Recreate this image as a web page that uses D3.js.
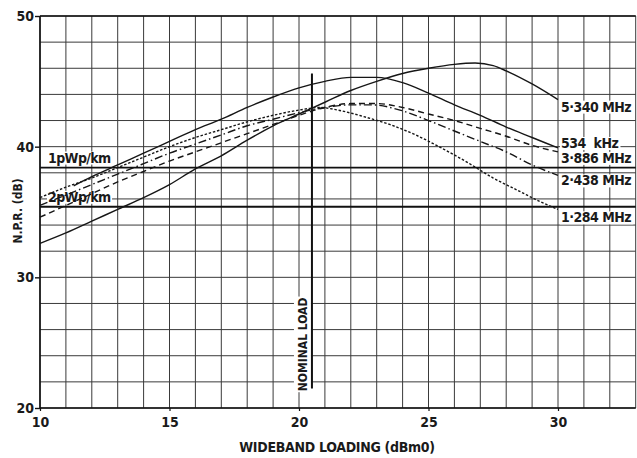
<!DOCTYPE html>
<html>
<head>
<meta charset="utf-8">
<script src="https://cdn.jsdelivr.net/npm/d3@7"></script>
<style>
  html, body { margin: 0; padding: 0; background: #fff; }
  svg { display: block; }
  text { font-family: "DejaVu Sans Condensed", "DejaVu Sans", sans-serif; fill: #1a1a1a; }
</style>
</head>
<body>
<svg id="chart" width="637" height="458"></svg>
<script>
// Axis ticks
const xTicks = [10, 15, 20, 25, 30];
const yTicks = [20, 30, 40, 50];

// N.P.R. curves (wideband loading dBm0, N.P.R. dB) per slot frequency
const npr534k  = [[11.3,37.0],[12,37.7],[13,38.6],[14,39.5],[15,40.4],[16,41.3],[17,42.1],[18,43.0],[19,43.8],[20,44.5],[21,45.0],[22,45.3],[23,45.3],[24,44.9],[25,44.1],[26,43.2],[27,42.4],[28,41.5],[29,40.7],[30,39.9]];
const npr1284  = [[10,36.1],[11,36.9],[12,37.6],[13,38.4],[14,39.2],[15,40.0],[16,40.7],[17,41.3],[18,41.9],[19,42.4],[20,42.8],[20.8,43.0],[21.5,42.8],[22.5,42.3],[23.5,41.7],[24.5,40.9],[25.5,39.9],[26.5,38.8],[27.5,37.6],[28.5,36.6],[29.3,35.8],[30,35.2]];
const npr2438  = [[10,35.5],[11,36.3],[12,37.1],[13,37.9],[14,38.7],[15,39.5],[16,40.2],[17,40.9],[18,41.6],[19,42.1],[20,42.6],[21,43.0],[22,43.2],[22.8,43.2],[23.9,42.8],[25,42.0],[26,41.2],[27,40.4],[28,39.6],[29,38.6],[30,37.8]];
const npr3886  = [[10,34.6],[11,35.5],[12,36.4],[13,37.3],[14,38.1],[15,38.9],[16,39.6],[17,40.3],[18,41.0],[19,41.7],[20,42.4],[21,43.0],[22,43.3],[23,43.3],[24,43.0],[25,42.5],[26,42.0],[27,41.4],[28,40.8],[29,40.1],[30,39.6]];
const npr5340  = [[10,32.6],[11,33.4],[12,34.3],[13,35.2],[14,36.1],[15,37.1],[16,38.3],[17,39.3],[18,40.5],[19,41.6],[20,42.5],[21,43.4],[22,44.3],[23,45.0],[24,45.6],[25,46.0],[26,46.3],[26.8,46.4],[27.5,46.2],[28,45.8],[29,44.8],[30,43.6]];

// Noise objective levels
const objectiveNames = ["1pWp/km", "2pWp/km"];
const objectiveValues = [38.4, 35.4];

// Nominal load marker
const nominalLoad = 20.5;
const nominalSpan = [21.5, 45.6];

const seriesNames = ["534  kHz", "1·284 MHz", "2·438 MHz", "3·886 MHz", "5·340 MHz"];
const seriesData = [npr534k, npr1284, npr2438, npr3886, npr5340];
const seriesDash = [null, "2.5,1.8", "8,3,1.5,3", "6,4", null];
const labelShift = [0, 13, 10, 11, 12];

const svg = d3.select("#chart");
const x = d3.scaleLinear().domain([10, 30]).range([40, 558]);
const y = d3.scaleLinear().domain([20, 50]).range([408, 16]);
const xMax = 33;

// grid
const grid = svg.append("g").attr("stroke", "#3a3a3a").attr("stroke-width", 1);
grid.selectAll("line.v").data(d3.range(10, xMax + 1)).join("line")
  .attr("x1", d => x(d)).attr("x2", d => x(d))
  .attr("y1", y(50)).attr("y2", y(20));
grid.selectAll("line.h").data(d3.range(20, 51, 2)).join("line")
  .attr("x1", x(10)).attr("x2", x(xMax))
  .attr("y1", d => y(d)).attr("y2", d => y(d));

// frame
svg.append("line").attr("x1", x(10)).attr("x2", x(10)).attr("y1", y(50)).attr("y2", y(20))
  .attr("stroke", "#111").attr("stroke-width", 1.6);
svg.append("line").attr("x1", x(10)).attr("x2", x(xMax)).attr("y1", y(20)).attr("y2", y(20))
  .attr("stroke", "#111").attr("stroke-width", 1.6);
svg.append("line").attr("x1", x(10)).attr("x2", x(xMax)).attr("y1", y(50)).attr("y2", y(50))
  .attr("stroke", "#111").attr("stroke-width", 1.4);

// axes
const yAxis = d3.axisLeft(y).tickValues(yTicks).tickSize(5).tickPadding(1).tickFormat(d3.format("d"));
const gy = svg.append("g").attr("transform", `translate(${x(10)},0)`).call(yAxis);
gy.select(".domain").remove();
gy.selectAll(".tick line").attr("stroke", "#111").attr("stroke-width", 1.4);
gy.selectAll(".tick text").attr("font-size", 14).attr("font-weight", "bold").attr("fill", "#1a1a1a");

const xAxis = d3.axisBottom(x).tickValues(xTicks).tickSize(3).tickPadding(6).tickFormat(d3.format("d"));
const gx = svg.append("g").attr("transform", `translate(0,${y(20)})`).call(xAxis);
gx.select(".domain").remove();
gx.selectAll(".tick line").attr("stroke", "#111").attr("stroke-width", 1.2);
gx.selectAll(".tick text").attr("font-size", 14).attr("font-weight", "bold").attr("fill", "#1a1a1a");

// axis titles
svg.append("text").attr("x", 337).attr("y", 452).attr("text-anchor", "middle")
  .attr("font-size", 14).attr("letter-spacing", -0.3).attr("font-weight", "bold").text("WIDEBAND LOADING (dBm0)");
svg.append("text").attr("transform", "translate(22,211) rotate(-90)").attr("text-anchor", "middle")
  .attr("font-size", 12).attr("font-weight", "bold").text("N.P.R. (dB)");

// objective lines with labels
objectiveValues.forEach((v, i) => {
  svg.append("line").attr("x1", x(10)).attr("x2", x(xMax)).attr("y1", y(v)).attr("y2", y(v))
    .attr("stroke", "#111").attr("stroke-width", 1.8);
});
const objLabels = svg.append("g");
objectiveValues.forEach((v, i) => {
  const t = objLabels.append("text").attr("x", x(10) + 8).attr("y", y(v) - 5)
    .attr("font-size", 14).attr("letter-spacing", -0.6).attr("font-weight", "bold").text(objectiveNames[i]);
  const b = t.node().getBBox();
  objLabels.insert("rect", "text").attr("x", b.x - 1).attr("y", b.y + 2).attr("width", b.width + 2).attr("height", b.height - 3).attr("fill", "#fff");
});

// nominal load marker
const nomG = svg.append("g");
const nomText = nomG.append("text")
  .attr("transform", `translate(${x(nominalLoad) - 5},${y(nominalSpan[0]) - 44}) rotate(-90)`)
  .attr("text-anchor", "middle").attr("font-size", 12).attr("font-weight", "bold").text("NOMINAL LOAD");
const nb = nomText.node().getBoundingClientRect();
nomG.insert("rect", "text").attr("x", nb.x - 2).attr("y", nb.y - 1).attr("width", nb.width + 3).attr("height", nb.height + 2).attr("fill", "#fff");
svg.append("line").attr("x1", x(nominalLoad)).attr("x2", x(nominalLoad))
  .attr("y1", y(nominalSpan[0])).attr("y2", y(nominalSpan[1]))
  .attr("stroke", "#111").attr("stroke-width", 2);

// curves
const line = d3.line().x(d => x(d[0])).y(d => y(d[1])).curve(d3.curveMonotoneX);
seriesData.forEach((data, i) => {
  svg.append("path").datum(data).attr("d", line)
    .attr("fill", "none").attr("stroke", "#161616").attr("stroke-width", 1.4)
    .attr("stroke-dasharray", seriesDash[i]);
});

// end labels
const endLabels = svg.append("g");
seriesData.forEach((data, i) => {
  const last = data[data.length - 1];
  const t = endLabels.append("text").attr("x", x(last[0]) + 3).attr("y", y(last[1]) + labelShift[i])
    .attr("font-size", 14).attr("letter-spacing", -0.5).attr("font-weight", "bold").style("white-space", "pre").text(seriesNames[i]);
  const b = t.node().getBBox();
  endLabels.insert("rect", "text").attr("x", b.x - 1).attr("y", b.y + 2).attr("width", b.width + 3).attr("height", b.height - 3).attr("fill", "#fff");
});
</script>
</body>
</html>
